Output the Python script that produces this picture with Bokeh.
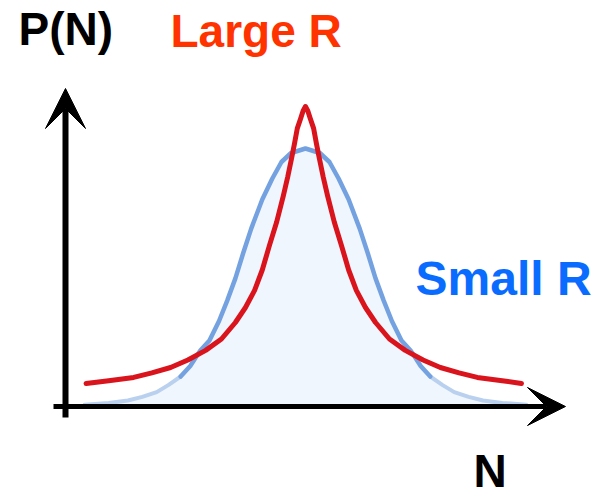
from bokeh.plotting import figure
from bokeh.models import Range1d, Arrow, VeeHead, Label
from bokeh.embed import file_html
from bokeh.resources import INLINE

# Probability distribution P(N) for two values of R (peak near N = 5)
blue_n = [0.42, 0.92, 1.32, 1.62, 1.92, 2.17, 2.42, 2.62, 2.83, 3.02, 3.22, 3.39, 3.56, 3.72,
          3.89, 4.12, 4.33, 4.52, 4.72, 5.02, 5.32, 5.52, 5.71, 5.92, 6.15, 6.32, 6.48,
          6.65, 6.82, 7.02, 7.21, 7.42, 7.62, 7.87, 8.12, 8.42, 8.72, 9.12, 9.62]
blue_p = [0.006, 0.012, 0.02, 0.032, 0.048, 0.072, 0.10, 0.135, 0.187, 0.22, 0.285, 0.353, 0.427,
          0.51, 0.593, 0.69, 0.76, 0.815, 0.845, 0.86, 0.845, 0.815, 0.76, 0.69, 0.593, 0.51,
          0.427, 0.353, 0.285, 0.22, 0.187, 0.135, 0.10, 0.072, 0.048, 0.032, 0.02, 0.012, 0.006]

red_n = [0.45, 0.92, 1.44, 1.82, 2.21, 2.57, 2.94, 3.27, 3.56, 3.77, 3.96, 4.12, 4.27, 4.42,
         4.56, 4.65, 4.73, 4.79, 4.85, 4.92, 4.97, 5.02, 5.07, 5.12, 5.19, 5.25, 5.31, 5.39,
         5.48, 5.62, 5.77, 5.92, 6.08, 6.27, 6.48, 6.77, 7.10, 7.47, 7.83, 8.22, 8.60, 9.12, 9.52]
red_p = [0.077, 0.086, 0.097, 0.112, 0.13, 0.155, 0.187, 0.225, 0.28, 0.33, 0.387, 0.455, 0.537,
         0.615, 0.703, 0.765, 0.827, 0.875, 0.927, 0.96, 0.985, 1.00, 0.985, 0.96, 0.927, 0.875,
         0.827, 0.765, 0.703, 0.615, 0.537, 0.455, 0.387, 0.33, 0.28, 0.225, 0.187, 0.155, 0.13,
         0.112, 0.097, 0.086, 0.077]

W, H = 613, 498
X0, SX = 64.0, 48.0      # pixel x of N=0, pixels per unit N
Y0, SY = 406.0, 300.0    # pixel y of P=0, pixels per unit P


def nx(px):
    return (px - X0) / SX


def py(pix):
    return (Y0 - pix) / SY


p = figure(width=W, height=H, output_backend="svg", toolbar_location=None,
           x_range=Range1d(nx(0), nx(W)), y_range=Range1d(py(H), py(0)),
           min_border=0)
p.axis.visible = False
p.grid.visible = False
p.outline_line_color = None
p.background_fill_color = "white"
p.border_fill_color = "white"

# shaded area under the small-R curve
p.varea(x=blue_n, y1=[0] * len(blue_n), y2=blue_p, fill_color="#f0f6fd")

# small-R curve: pale in the tails, stronger near the peak
core = [i for i, v in enumerate(blue_p) if v >= 0.09]
lo, hi = core[0], core[-1]
p.line(blue_n[:lo + 1], blue_p[:lo + 1], line_color="#b9d0ee", line_width=4, line_cap="round")
p.line(blue_n[hi:], blue_p[hi:], line_color="#b9d0ee", line_width=4, line_cap="round")
p.line(blue_n[lo:hi + 1], blue_p[lo:hi + 1], line_color="#74a2e0", line_width=4.5,
       line_cap="round", line_join="round")

# large-R curve
p.line(red_n, red_p, line_color="#d9141c", line_width=5, line_cap="round", line_join="round")

# axes drawn as arrows
p.add_layout(Arrow(x_start=nx(65), y_start=py(417), x_end=nx(65), y_end=py(88),
                   line_width=6, line_color="black",
                   end=VeeHead(size=40, fill_color="black", line_color="black", line_width=1)))
p.add_layout(Arrow(x_start=nx(53), y_start=py(406), x_end=nx(565), y_end=py(406),
                   line_width=5, line_color="black",
                   end=VeeHead(size=38, fill_color="black", line_color="black", line_width=1)))

font = "Liberation Sans"
labels = [
    ("P(N)", 18, 28, "black", "46px"),
    ("Large R", 170, 30, "#ff3300", "46px"),
    ("Small R", 415, 278, "#0a6cff", "48px"),
    ("N", 473, 470, "black", "46px"),
]
for txt, lx, ly, col, size in labels:
    p.add_layout(Label(x=nx(lx), y=py(ly), text=txt, text_font=font, text_font_size=size,
                       text_font_style="bold", text_color=col,
                       text_baseline="alphabetic", text_align="left"))

open("out.html", "w").write(file_html(p, INLINE))
